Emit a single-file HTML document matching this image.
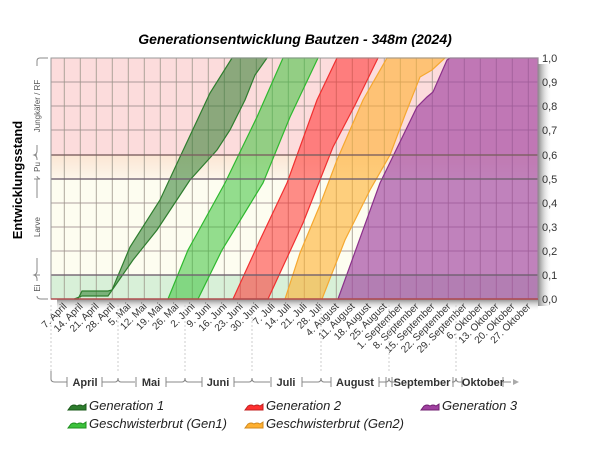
<!DOCTYPE html>
<html><head><meta charset="utf-8"><style>
html,body{margin:0;padding:0;background:#fff}
svg{display:block;font-family:"Liberation Sans",sans-serif}
</style></head><body>
<svg width="600" height="450" viewBox="0 0 600 450">
<defs>
<linearGradient id="sh" x1="0" x2="1"><stop offset="0" stop-color="#888"/><stop offset="1" stop-color="#fff" stop-opacity="0"/></linearGradient>
<linearGradient id="shb" x1="0" y1="0" x2="0" y2="1"><stop offset="0" stop-color="#888"/><stop offset="1" stop-color="#fff" stop-opacity="0"/></linearGradient>
<linearGradient id="pu" x1="0" y1="0" x2="0" y2="1"><stop offset="0" stop-color="#fbe6d4"/><stop offset="1" stop-color="#fdf6ea"/></linearGradient>
</defs>
<text x="295" y="44" text-anchor="middle" font-size="14" font-weight="bold" font-style="italic">Generationsentwicklung Bautzen - 348m (2024)</text>
<rect x="538" y="64" width="14" height="242" fill="url(#sh)"/>
<rect x="57" y="299" width="481" height="12" fill="url(#shb)"/>
<rect x="51" y="58" width="487" height="97" fill="#fcdcdc"/>
<rect x="51" y="155" width="487" height="24" fill="url(#pu)"/>
<rect x="51" y="179" width="487" height="96" fill="#fdfdf0"/>
<rect x="51" y="275" width="487" height="24" fill="#d8f0d8"/>
<g stroke="#9a8a8a" stroke-width="1" opacity="0.8">
<line x1="51" x2="538" y1="82" y2="82"/><line x1="51" x2="538" y1="106" y2="106"/><line x1="51" x2="538" y1="130" y2="130"/>
<line x1="51" x2="538" y1="203" y2="203"/><line x1="51" x2="538" y1="227" y2="227"/><line x1="51" x2="538" y1="251" y2="251"/>
</g>
<g stroke="#9a9488" stroke-width="1" opacity="0.8" id="vg"></g>
<g stroke-width="1.2">
<path d="M78,299 L82,291 L108,291 L112,290 L130,247 L160,200 L180,157 L195,125 L210,93 L232,58 L267,58 L255,75 L245,100 L230,130 L217,150 L190,180 L157,230 L133,260 L108,296 L82,296 L74,299 Z" fill="#2e7d2e" fill-opacity="0.55" stroke="#2e7d2e"/>
<path d="M168,299 L188,250 L225,183 L257,117 L283,58 L318,58 L290,117 L263,183 L222,250 L198,299 Z" fill="#3cc23c" fill-opacity="0.55" stroke="#2fb82f"/>
<path d="M233,299 L260,240 L287,183 L300,147 L317,100 L337,58 L378,58 L355,105 L333,147 L303,223 L268,299 Z" fill="#ff3030" fill-opacity="0.55" stroke="#f03030"/>
<path d="M285,299 L300,253 L320,205 L337,160 L363,100 L387,58 L445,58 L432,70 L420,77 L405,115 L390,155 L370,190 L345,240 L322,299 Z" fill="#ffb030" fill-opacity="0.6" stroke="#f5a830"/>
<path d="M338,299 L380,183 L417,107 L427,97 L433,92 L447,60 L450,58 L538,58 L538,299 Z" fill="#a040a0" fill-opacity="0.65" stroke="#8a308a"/>
</g>
<g stroke-width="1.5" opacity="0.9">
<line x1="51" x2="538" y1="275" y2="275" stroke="#6e5f6e"/>
<line x1="51" x2="538" y1="179" y2="179" stroke="#6e5f6e"/>
<line x1="51" x2="538" y1="155" y2="155" stroke="#7a5f5f"/>
</g>
<rect x="51" y="58" width="487" height="241" fill="none" stroke="#999"/>
<line x1="51" x2="538" y1="299" y2="299" stroke="#b05050" stroke-width="1.5"/>
<g font-size="11" fill="#333">
<text x="542" y="62">1,0</text><text x="542" y="86">0,9</text><text x="542" y="110">0,8</text><text x="542" y="134">0,7</text><text x="542" y="159">0,6</text><text x="542" y="183">0,5</text><text x="542" y="207">0,4</text><text x="542" y="231">0,3</text><text x="542" y="255">0,2</text><text x="542" y="279">0,1</text><text x="542" y="303">0,0</text>
</g>
<text transform="translate(22,180) rotate(-90)" text-anchor="middle" font-size="13" font-weight="bold">Entwicklungsstand</text>
<g stroke="#888" fill="none" stroke-width="1">
<path d="M48,58 h-8 q-3,0 -3,3 v5 M37,145 v6 q0,3 -3,4 q3,1 3,4 v1"/>
<path d="M37,176 v0 q0,2 3,3"/>
<path d="M37,179 q0,3 -0,3 v16 M37,258 v13 q0,3 -3,4 q3,1 3,4"/>
<path d="M37,279 v2 M37,296 q0,3 4,3 h7"/>
<path d="M34,155 h3 M34,179 h6 M34,275 h6"/>
</g>
<g font-size="8" fill="#555" text-anchor="middle">
<text transform="translate(40,106) rotate(-90)">Jungkäfer / RF</text>
<text transform="translate(40,167) rotate(-90)">Pu</text>
<text transform="translate(40,227) rotate(-90)">Larve</text>
<text transform="translate(40,288) rotate(-90)">Ei</text>
</g>
<g id="xl" font-size="10" fill="#333"></g>
<g stroke="#ccc" stroke-dasharray="2,2">
<line x1="51" x2="51" y1="305" y2="372"/><line x1="118" x2="118" y1="305" y2="372"/><line x1="185" x2="185" y1="305" y2="372"/><line x1="252" x2="252" y1="305" y2="372"/><line x1="321" x2="321" y1="305" y2="372"/><line x1="389" x2="389" y1="305" y2="372"/><line x1="456" x2="456" y1="305" y2="372"/>
</g>
<g stroke="#888" fill="none">
<path d="M51,371 v8 q0,3 4,3 h12 M102,382 h13 q3,0 3,-4 q0,4 3,4 h14 M166,382 h16 q3,0 3,-4 q0,4 3,4 h14 M234,382 h15 q3,0 3,-4 q0,4 3,4 h15 M302,382 h16 q3,0 3,-4 q0,4 3,4 h7 M379,382 h7 q3,0 3,-4 q0,4 3,4 h4 M452,382 h1 q3,0 3,-4 q0,4 3,4 h3 M503,382 h8"/>
<path d="M67,377 v10 M102,377 v10 M136,377 v10 M166,377 v10 M202,377 v10 M234,377 v10 M271,377 v10 M302,377 v10 M331,377 v10 M379,377 v10 M386,377 v10 M392,377 v10 M453,377 v10 M462,377 v10 M503,377 v10"/>
</g>
<path d="M513,379 l6,3 l-6,3 Z" fill="#aaa"/>
<g font-size="11" font-weight="bold" fill="#333" text-anchor="middle">
<text x="85" y="386">April</text><text x="151" y="386">Mai</text><text x="218" y="386">Juni</text><text x="286" y="386">Juli</text><text x="355" y="386">August</text><text x="422" y="386">September</text><text x="483" y="386">Oktober</text>
</g>
<g font-size="13" font-style="italic" fill="#222">
<path d="M68,410 l3,-4 q3,-2 6,0 q3,-2 6,0 l3,-2 v6 Z" fill="#2e7d2e" stroke="#1a5a1a"/>
<text x="89" y="410">Generation 1</text>
<path d="M68,428 l3,-4 q3,-2 6,0 q3,-2 6,0 l3,-2 v6 Z" fill="#3cc23c" stroke="#1f8f1f"/>
<text x="89" y="428">Geschwisterbrut (Gen1)</text>
<path d="M245,410 l3,-4 q3,-2 6,0 q3,-2 6,0 l3,-2 v6 Z" fill="#ff3030" stroke="#c02020"/>
<text x="266" y="410">Generation 2</text>
<path d="M245,428 l3,-4 q3,-2 6,0 q3,-2 6,0 l3,-2 v6 Z" fill="#ffb030" stroke="#d08a20"/>
<text x="266" y="428">Geschwisterbrut (Gen2)</text>
<path d="M421,410 l3,-4 q3,-2 6,0 q3,-2 6,0 l3,-2 v6 Z" fill="#a040a0" stroke="#702070"/>
<text x="442" y="410">Generation 3</text>
</g>
<script>
var vg=document.getElementById('vg'),xl=document.getElementById('xl'),ns='http://www.w3.org/2000/svg';
var labs=["7. April","14. April","21. April","28. April","5. Mai","12. Mai","19. Mai","26. Mai","2. Juni","9. Juni","16. Juni","23. Juni","30. Juni","7. Juli","14. Juli","21. Juli","28. Juli","4. August","11. August","18. August","25. August","1. September","8. September","15. September","22. September","29. September","6. Oktober","13. Oktober","20. Oktober","27. Oktober"];
for(var k=0;k<30;k++){var x=64.3+16*k;
var l=document.createElementNS(ns,'line');l.setAttribute('x1',x);l.setAttribute('x2',x);l.setAttribute('y1',58);l.setAttribute('y2',299);vg.appendChild(l);
var t=document.createElementNS(ns,'text');t.setAttribute('text-anchor','end');t.setAttribute('transform','translate('+(x+3)+',307) rotate(-45)');t.textContent=labs[k];xl.appendChild(t);}
</script>
</svg>
</body></html>
